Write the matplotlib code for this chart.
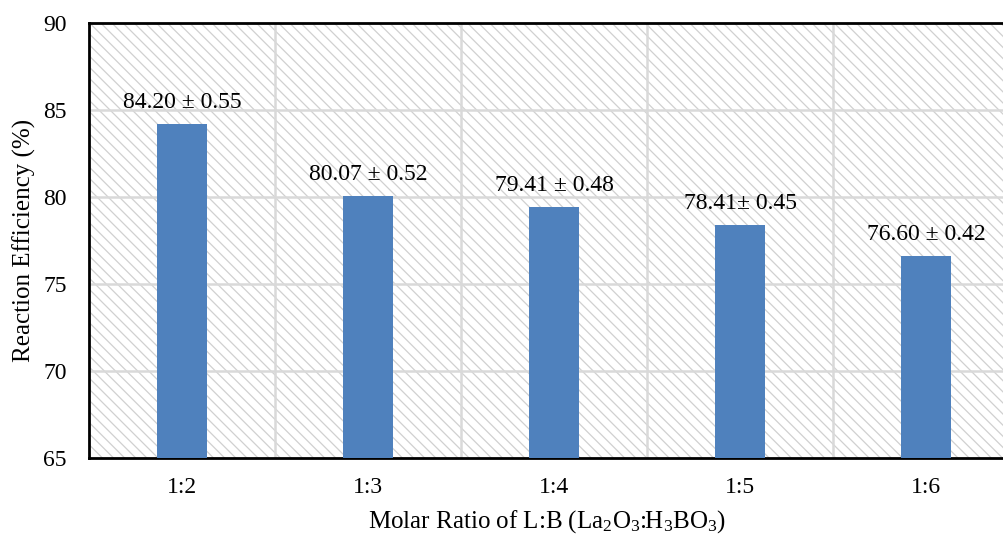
import matplotlib
matplotlib.use("Agg")
import matplotlib.pyplot as plt
import matplotlib.patches as mpatches
import numpy as np

# data
ratios = ['1:2', '1:3', '1:4', '1:5', '1:6']
efficiency = [84.20, 80.07, 79.41, 78.41, 76.60]
labels = ['84.20 ± 0.55', '80.07 ± 0.52', '79.41 ± 0.48', '78.41± 0.45', '76.60 ± 0.42']
yticks = [65, 70, 75, 80, 85, 90]

plt.rcParams['font.family'] = ['Liberation Serif', 'DejaVu Serif']
plt.rcParams['mathtext.fontset'] = 'custom'
plt.rcParams['mathtext.rm'] = 'Liberation Serif'
plt.rcParams['mathtext.default'] = 'regular'
plt.rcParams['hatch.linewidth'] = 0.9
plt.rcParams['hatch.color'] = '#d0d0d0'

fig = plt.figure(figsize=(10.04, 5.35), dpi=100)
# axes runs past the right edge, as in the cropped original
ax = fig.add_axes([89/1004, 77/535, 930/1004, 435/535])

x = np.arange(len(ratios))

# hatched background
bg = mpatches.Rectangle((0, 0), 1, 1, transform=ax.transAxes, facecolor='white',
                        edgecolor='#d0d0d0', linewidth=0, hatch='\\\\\\', zorder=0)
ax.add_patch(bg)

ax.bar(x, [v - 65 for v in efficiency], bottom=65, width=0.27, color='#4f81bd', zorder=3)

for xi, v, lab in zip(x, efficiency, labels):
    ax.annotate(lab, xy=(xi, v), xytext=(0, 8), textcoords='offset points',
                ha='center', va='bottom', fontsize=17, zorder=4)

ax.set_xlim(-0.5, len(ratios) - 0.5)
ax.set_ylim(65, 90)
ax.set_yticks(yticks)
ax.set_xticks(x)
ax.set_xticklabels(ratios)

# grid lines
for y in yticks[1:-1]:
    ax.axhline(y, color='#d9d9d9', linewidth=1.8, zorder=1)
for b in np.arange(0.5, len(ratios) - 0.5, 1):
    ax.axvline(b, color='#d9d9d9', linewidth=1.8, zorder=1)

ax.tick_params(axis='both', length=0, labelsize=17)
ax.tick_params(axis='y', pad=16)
ax.tick_params(axis='x', pad=14)

for s in ['left', 'bottom', 'top']:
    ax.spines[s].set_linewidth(2)
    ax.spines[s].set_color('black')
ax.spines['right'].set_visible(False)

ax.set_ylabel('Reaction Efficiency (%)', fontsize=18)
ax.yaxis.set_label_coords(-0.057, 0.5)
ax.set_xlabel(r'Molar Ratio of L:B (La$_2$O$_3$:H$_3$BO$_3$)', fontsize=18)
ax.xaxis.set_label_coords(0.492, -0.115)

fig.savefig('out.png', dpi=100)
